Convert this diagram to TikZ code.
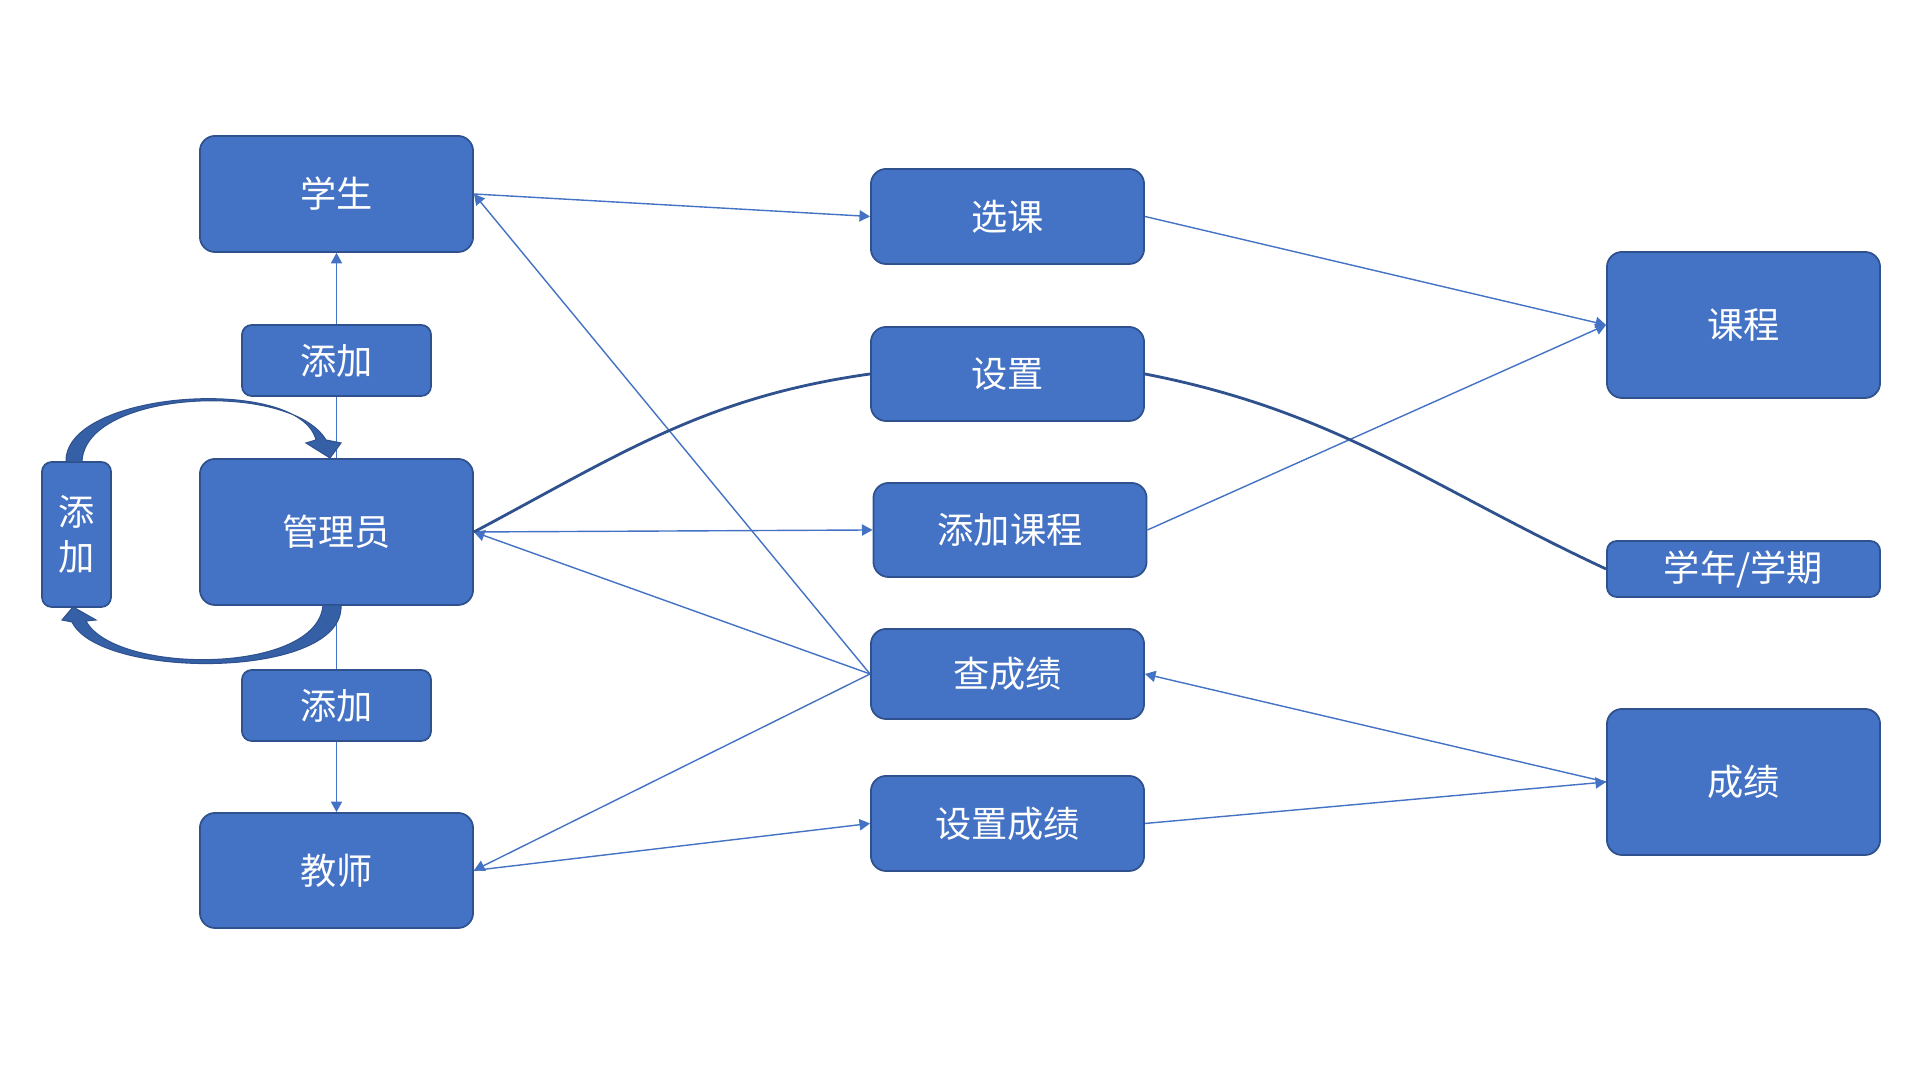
\documentclass[tikz,border=0pt]{standalone}
\usepackage{fontspec}
\setmainfont{Noto Sans CJK SC}
\usetikzlibrary{arrows.meta}
\definecolor{boxblue}{HTML}{4472C4}
\definecolor{boxedge}{HTML}{2F528F}
\definecolor{loopblue}{HTML}{3560A6}
\tikzset{
  every node/.style={font=\fontsize{10.3}{12.8}\selectfont},
  box/.style={
    draw=boxedge, line width=0.5pt, fill=boxblue, text=white,
    rounded corners=#1, align=center, inner sep=0pt,
    minimum width=2.73cm
  },
  box/.default=4.3pt,
  arr/.style={-{Triangle[length=3pt,width=3.2pt]}, line width=0.4pt, draw=boxblue},
  plainline/.style={line width=0.4pt, draw=boxblue},
  curveline/.style={line width=0.8pt, draw=boxedge},
  looparrow/.style={fill=loopblue, draw=boxedge, line width=0.3pt}
}

\begin{document}
\begin{tikzpicture}[x=0.01cm, y=0.01cm]
\useasboundingbox (0,0) rectangle (1920,1080);

\node[box, minimum height=1.16cm] (stu) at (336.5,886) {学生};
\node[box=2.8pt, minimum width=1.89cm, minimum height=0.71cm] (addA) at (336.5,719.5) {添加};
\node[box, minimum height=1.46cm] (admin) at (336.5,548) {管理员};
\node[box=2.8pt, minimum width=0.69cm, minimum height=1.45cm] (addL) at (76.5,545.5) {添\\加};
\node[box=2.8pt, minimum width=1.89cm, minimum height=0.71cm] (addB) at (336.5,374.5) {添加};
\node[box, minimum height=1.15cm] (tea) at (336.5,209.5) {教师};

\node[box, minimum height=0.95cm] (sel) at (1007.5,863.5) {选课};
\node[box, minimum height=0.94cm] (set) at (1007.5,706) {设置};
\node[box, minimum height=0.94cm] (addc) at (1010,550) {添加课程};
\node[box, minimum height=0.90cm] (qry) at (1007.5,406) {查成绩};
\node[box, minimum height=0.95cm] (setg) at (1007.5,256.5) {设置成绩};

\node[box, minimum height=1.46cm] (crs) at (1743.5,755) {课程};
\node[box=2.8pt, minimum height=0.56cm] (term) at (1743.5,511) {学年/学期};
\node[box, minimum height=1.46cm] (grd) at (1743.5,298) {成绩};

\draw[plainline] (admin) -- (addA);
\draw[arr] (addA) -- (stu);
\draw[plainline] (admin) -- (addB);
\draw[arr] (addB) -- (tea);

\draw[arr] (stu.east) -- (sel.west);
\draw[arr] (qry.west) -- (stu.east);
\draw[arr] (admin.east) -- (addc.west);
\draw[arr] (qry.west) -- (admin.east);
\draw[arr] (qry.west) -- (tea.east);
\draw[arr] (tea.east) -- (setg.west);
\draw[arr] (sel.east) -- (crs.west);
\draw[arr] (addc.east) -- (crs.west);
\draw[arr] (grd.west) -- (qry.east);
\draw[arr] (setg.east) -- (grd.west);

\draw[curveline] (set.west) to[out=188, in=28] (admin.east);
\draw[curveline] (set.east) to[out=-11, in=155] (term.west);

\filldraw[looparrow] (66,618) .. controls (64,690) and (300,705) .. (316,640)
  -- (306,637) -- (330,622) -- (341,637) -- (326,640)
  .. controls (290,700) and (84,690) .. (82,618) -- cycle;
\filldraw[looparrow] (341,475) .. controls (345,400) and (100,400) .. (72,458)
  -- (62,460) -- (73,473) -- (96,460) -- (86,459)
  .. controls (115,405) and (318,405) .. (323,475) -- cycle;

\end{tikzpicture}
\end{document}
